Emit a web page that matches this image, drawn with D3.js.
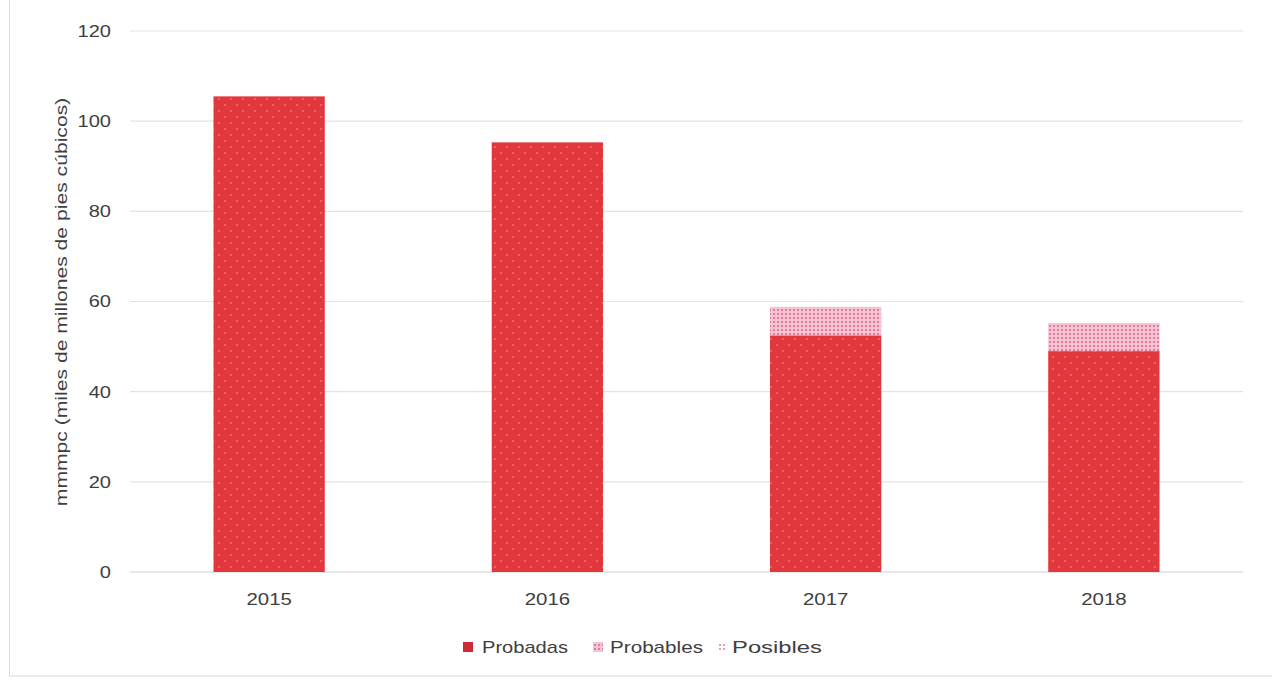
<!DOCTYPE html>
<html>
<head>
<meta charset="utf-8">
<script src="https://cdn.jsdelivr.net/npm/d3@7"></script>
<style>
  body { margin: 0; background: #fff; }
  text { font-family: "Liberation Sans", Arial, sans-serif; fill: #404040; }
</style>
</head>
<body>
<svg width="1272" height="681"></svg>
<script>
var years = ['2015', '2016', '2017', '2018'];
var probadas = [105.5, 95.3, 52.5, 49.0];
var probables = [0, 0, 6.3, 6.2];
var posibles = [0, 0, 0, 0];
var seriesNames = ['Probadas', 'Probables', 'Posibles'];
var yTicks = [0, 20, 40, 60, 80, 100, 120];

var rows = years.map((y, i) => {
    return { year: y, Probadas: probadas[i], Probables: probables[i], Posibles: posibles[i] };
});

var svg = d3.select('svg');

// text in the picture is wider than plain Arial
function stretch(sel, k) {
    sel.each(function() {
        var w = this.getComputedTextLength();
        d3.select(this).attr('textLength', w * k).attr('lengthAdjust', 'spacingAndGlyphs');
    });
}

// patterns
var defs = svg.append('defs');
var p1 = defs.append('pattern').attr('id', 'pat0')
    .attr('width', 12).attr('height', 12).attr('patternUnits', 'userSpaceOnUse');
p1.append('rect').attr('width', 12).attr('height', 12).attr('fill', '#e2383d');
p1.append('circle').attr('cx', 3).attr('cy', 3).attr('r', 0.9).attr('fill', '#ef7a7c');
p1.append('circle').attr('cx', 9).attr('cy', 9).attr('r', 0.9).attr('fill', '#ef7a7c');

var p2 = defs.append('pattern').attr('id', 'pat1')
    .attr('width', 4).attr('height', 4).attr('patternUnits', 'userSpaceOnUse');
p2.append('rect').attr('width', 4).attr('height', 4).attr('fill', '#f5c3d2');
p2.append('circle').attr('cx', 2).attr('cy', 2).attr('r', 1).attr('fill', '#d9648a');

var p3 = defs.append('pattern').attr('id', 'pat2')
    .attr('width', 4).attr('height', 4).attr('patternUnits', 'userSpaceOnUse');
p3.append('rect').attr('width', 4).attr('height', 4).attr('fill', '#ffffff');
p3.append('circle').attr('cx', 2).attr('cy', 2).attr('r', 1).attr('fill', '#e07b9c');

var fills = ['url(#pat0)', 'url(#pat1)', 'url(#pat2)'];

// frame
svg.append('rect')
    .attr('x', 9.5).attr('y', -2).attr('width', 1280).attr('height', 678)
    .attr('fill', '#fff').attr('stroke', '#d9d9d9');

var x = d3.scaleBand()
    .domain(years)
    .range([130, 1243])
    .paddingInner(0.6)
    .paddingOuter(0.3);

var y = d3.scaleLinear()
    .domain([0, 120])
    .range([572, 31]);

// grid
svg.append('g').selectAll('line').data(yTicks).enter().append('line')
    .attr('x1', 130).attr('x2', 1243)
    .attr('y1', (d) => y(d)).attr('y2', (d) => y(d))
    .attr('stroke', (d) => d === 0 ? '#d0d0d0' : '#e3e3e3')
    .attr('stroke-width', 1.2);

var yAxis = d3.axisLeft(y).tickValues(yTicks).tickSize(0).tickPadding(19);
var gy = svg.append('g').attr('transform', 'translate(130,0)').call(yAxis);
gy.select('.domain').remove();
gy.selectAll('text').style('font-size', '17px').attr('fill', '#404040').call(stretch, 1.18);

var xAxis = d3.axisBottom(x).tickSize(0).tickPadding(21);
var gx = svg.append('g').attr('transform', 'translate(0,572)').call(xAxis);
gx.select('.domain').remove();
gx.selectAll('text').style('font-size', '17px').attr('fill', '#404040').call(stretch, 1.2);

// stacked bars
var stack = d3.stack().keys(seriesNames);
var layers = stack(rows);

svg.append('g').selectAll('g').data(layers).enter().append('g')
    .attr('fill', (d, i) => fills[i])
    .selectAll('rect').data((d) => d).enter().append('rect')
    .attr('x', (d) => x(d.data.year))
    .attr('y', (d) => y(d[1]))
    .attr('width', x.bandwidth())
    .attr('height', (d) => y(d[0]) - y(d[1]));

// y label
svg.append('text')
    .attr('transform', 'translate(67,302) rotate(-90)')
    .attr('text-anchor', 'middle')
    .style('font-size', '16px')
    .text('mmmpc (miles de millones de pies cúbicos)')
    .call(stretch, 1.32);

// legend
var legendX = [463, 593, 718];
var textX = [19, 17, 14];
var textW = [86, 93, 90];
var leg = svg.append('g').selectAll('g').data(seriesNames).enter().append('g')
    .attr('transform', (d, i) => 'translate(' + legendX[i] + ',647)');
leg.append('rect')
    .attr('x', 0).attr('y', -5).attr('width', (d, i) => i === 2 ? 7 : 10).attr('height', 10)
    .attr('fill', (d, i) => i === 0 ? '#cf2a35' : fills[i]);
leg.append('text')
    .attr('x', (d, i) => textX[i]).attr('y', 6)
    .style('font-size', '17px')
    .attr('textLength', (d, i) => textW[i])
    .attr('lengthAdjust', 'spacingAndGlyphs')
    .text((d) => d);
</script>
</body>
</html>
